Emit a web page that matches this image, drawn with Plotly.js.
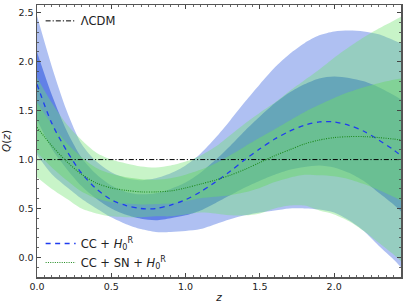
<!DOCTYPE html>
<html>
<head>
<meta charset="utf-8">
<script src="https://cdn.plot.ly/plotly-3.0.1.min.js"></script>
<style>html,body{margin:0;padding:0;background:#fff;}#chart{width:407px;height:304px;}</style>
</head>
<body>
<div id="chart"></div>
<script>
// redshift grid
const z = [0,0.1,0.2,0.3,0.4,0.5,0.6,0.7,0.8,0.9,1.0,1.1,1.2,1.3,1.4,1.5,1.6,1.7,1.8,1.9,2.0,2.1,2.2,2.3,2.4,2.45];

// CC + H0^R
const ccMean = [1.77,1.37,1.09,0.86,0.70,0.59,0.53,0.50,0.50,0.535,0.59,0.67,0.77,0.88,1.00,1.11,1.21,1.29,1.35,1.385,1.385,1.35,1.29,1.20,1.10,1.04];
const ccUp2  = [2.47,1.95,1.50,1.16,0.98,0.87,0.81,0.79,0.81,0.86,0.94,1.06,1.22,1.40,1.59,1.77,1.94,2.08,2.19,2.27,2.31,2.32,2.31,2.28,2.22,2.19];
const ccLo2  = [1.05,0.85,0.72,0.60,0.50,0.41,0.34,0.29,0.26,0.26,0.27,0.29,0.34,0.39,0.43,0.46,0.48,0.50,0.50,0.49,0.46,0.38,0.27,0.12,-0.02,-0.10];
const ccUp1  = [2.10,1.66,1.295,1.02,0.85,0.735,0.67,0.645,0.655,0.70,0.765,0.865,0.995,1.14,1.295,1.44,1.575,1.685,1.77,1.83,1.85,1.835,1.80,1.74,1.66,1.615];
const ccLo1  = [1.41,1.11,0.905,0.73,0.60,0.50,0.435,0.395,0.38,0.40,0.43,0.48,0.555,0.635,0.715,0.785,0.845,0.895,0.925,0.94,0.92,0.865,0.78,0.66,0.54,0.47];

// CC + SN + H0^R
const snMean = [1.33,1.14,0.98,0.85,0.76,0.71,0.685,0.67,0.67,0.68,0.71,0.75,0.79,0.84,0.90,0.97,1.04,1.10,1.16,1.20,1.225,1.235,1.235,1.225,1.21,1.20];
const snUp2  = [1.84,1.58,1.36,1.20,1.07,1.00,0.96,0.93,0.92,0.94,0.98,1.04,1.13,1.25,1.37,1.48,1.58,1.70,1.81,1.92,2.04,2.15,2.25,2.34,2.42,2.46];
const snLo2  = [0.82,0.70,0.60,0.50,0.45,0.42,0.41,0.41,0.42,0.42,0.44,0.46,0.45,0.43,0.43,0.45,0.50,0.53,0.53,0.48,0.44,0.37,0.27,0.15,0.03,-0.04];
const snUp1  = [1.585,1.36,1.17,1.025,0.915,0.855,0.82,0.80,0.795,0.81,0.845,0.895,0.96,1.045,1.135,1.225,1.31,1.40,1.485,1.56,1.63,1.69,1.74,1.78,1.815,1.83];
const snLo1  = [1.075,0.92,0.79,0.675,0.605,0.565,0.55,0.54,0.545,0.55,0.575,0.605,0.62,0.635,0.665,0.71,0.77,0.815,0.845,0.84,0.83,0.80,0.75,0.69,0.62,0.58];

const lcdmX = [0, 2.45];
const lcdmY = [1, 1];

const yTicks = [0.0,0.5,1.0,1.5,2.0,2.5];
const xTicks = [0.0,0.5,1.0,1.5,2.0];

function band(lo, up, color) {
  return [
    {x: z, y: lo, type: 'scatter', mode: 'lines', line: {width: 0, shape: 'spline', smoothing: 0.8}, hoverinfo: 'skip', showlegend: false, legend: 'legend2'},
    {x: z, y: up, type: 'scatter', mode: 'lines', fill: 'tonexty', fillcolor: color, line: {width: 0, shape: 'spline', smoothing: 0.8}, hoverinfo: 'skip', showlegend: false, legend: 'legend2'}
  ];
}

const traces = [].concat(
  band(ccLo2, ccUp2, 'rgba(65,105,225,0.42)'),
  band(ccLo1, ccUp1, 'rgba(50,90,225,0.62)'),
  band(snLo2, snUp2, 'rgba(110,225,110,0.38)'),
  band(snLo1, snUp1, 'rgba(110,215,110,0.5)'),
  [
    {x: lcdmX, y: lcdmY, type: 'scatter', mode: 'lines', name: 'ΛCDM', showlegend: true, line: {color: 'black', width: 1, dash: '5px,2px,1.2px,2px'}, legend: 'legend'},
    {x: z, y: ccMean, type: 'scatter', mode: 'lines', name: 'CC + <i>H</i><sub>0</sub><sup>R</sup>', showlegend: true, line: {color: '#1f3cf0', width: 1.3, dash: '5px,4.5px', shape: 'spline', smoothing: 0.8}, legend: 'legend2'},
    {x: z, y: snMean, type: 'scatter', mode: 'lines', name: 'CC + SN + <i>H</i><sub>0</sub><sup>R</sup>', showlegend: true, line: {color: '#1e8a1e', width: 1.1, dash: '1px,1.3px', shape: 'spline', smoothing: 0.8}, legend: 'legend2'}
  ]
);

const axisCommon = {
  showgrid: false, zeroline: false, showline: true, linecolor: '#555', linewidth: 1.5,
  mirror: 'allticks', ticks: 'inside', ticklen: 4, tickwidth: 1, tickcolor: '#444',
  tickfont: {family: 'DejaVu Sans', size: 9.5, color: '#222'},
  minor: {ticks: 'inside', ticklen: 2, tickwidth: 0.8, tickcolor: '#444'}
};

const layout = {
  width: 407, height: 304,
  margin: {l: 36.7, r: 6.3, t: 5, b: 27},
  paper_bgcolor: 'white', plot_bgcolor: 'white',
  showlegend: true,
  font: {family: 'DejaVu Sans', size: 10, color: '#222'},
  xaxis: Object.assign({}, axisCommon, {
    range: [0, 2.45], tickvals: xTicks, ticktext: xTicks.map(v => v.toFixed(1)),
    minor: Object.assign({}, axisCommon.minor, {dtick: 0.05, tick0: 0}),
    title: {text: '<i>z</i>', font: {family: 'DejaVu Sans', size: 10.5}, standoff: 2}
  }),
  yaxis: Object.assign({}, axisCommon, {
    range: [-0.2, 2.58], tickvals: yTicks, ticktext: yTicks.map(v => v.toFixed(1)),
    minor: Object.assign({}, axisCommon.minor, {dtick: 0.1, tick0: 0}),
    title: {text: '<i>Q</i>(<i>z</i>)', font: {family: 'DejaVu Sans', size: 10.5}, standoff: 6}
  }),
  legend: {x: 0.01, y: 0.995, xanchor: 'left', yanchor: 'top', bgcolor: 'rgba(0,0,0,0)', font: {size: 11.5}, traceorder: 'normal'},
  legend2: {x: 0.01, y: 0.0, xanchor: 'left', yanchor: 'bottom', bgcolor: 'rgba(0,0,0,0)', font: {size: 11.5}, traceorder: 'normal', tracegroupgap: 0}
};

Plotly.newPlot('chart', traces, layout, {staticPlot: true, displayModeBar: false});
</script>
</body>
</html>
